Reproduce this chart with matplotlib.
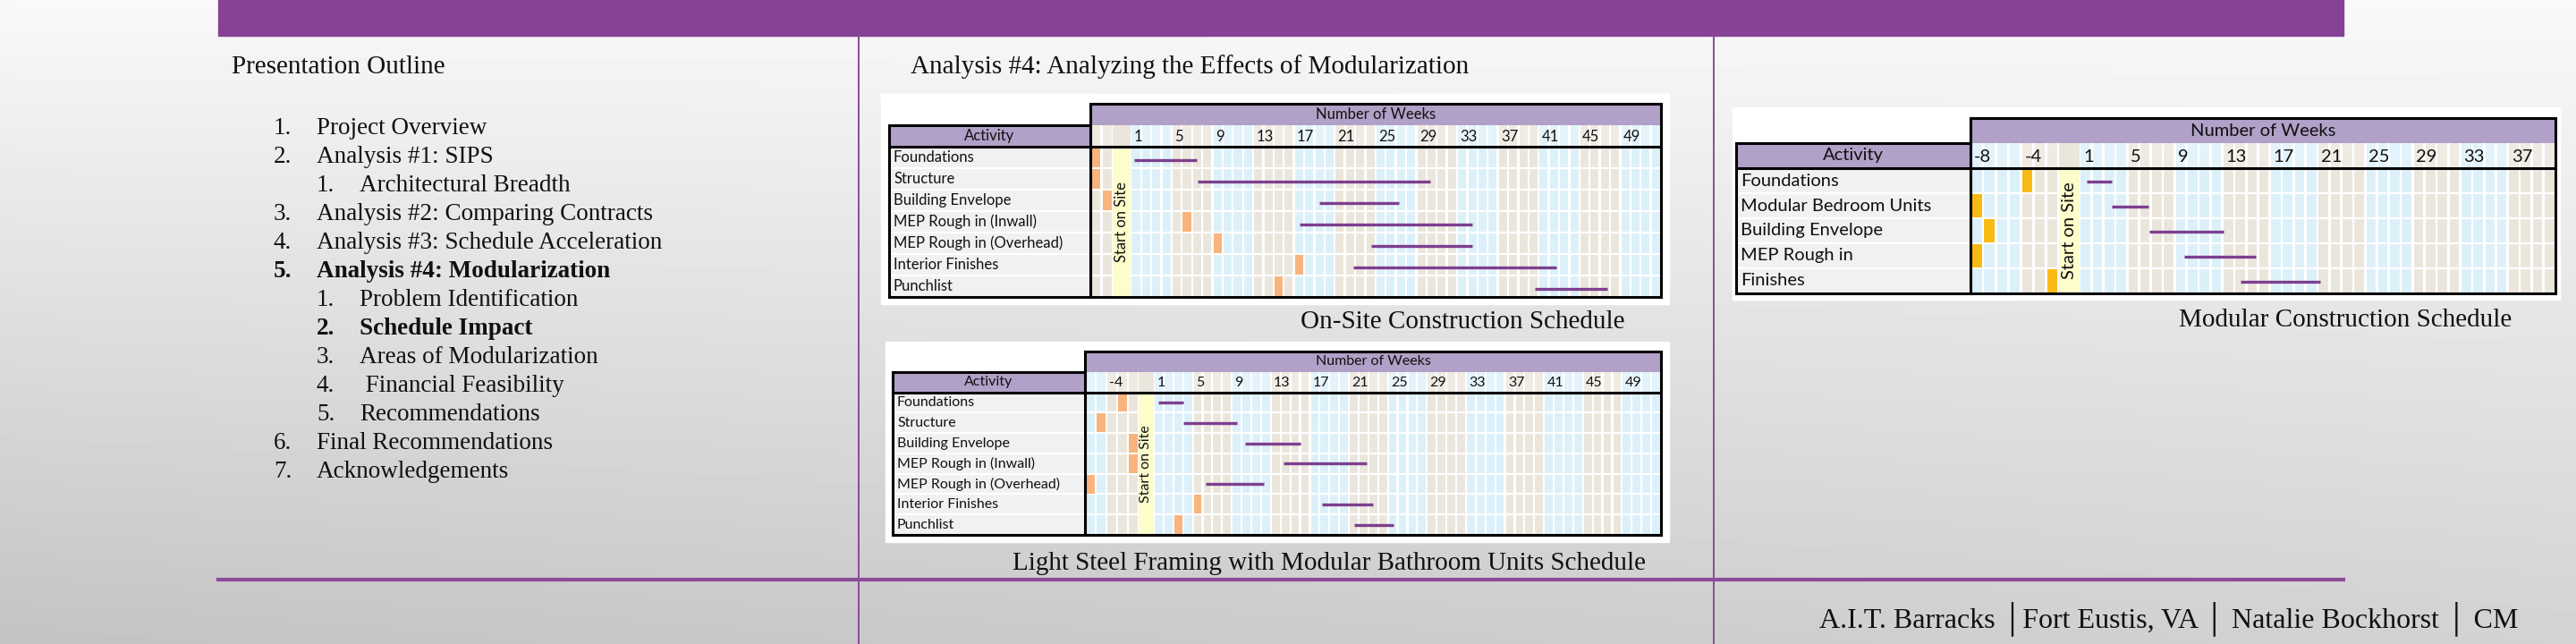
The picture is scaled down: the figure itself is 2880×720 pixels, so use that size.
import numpy as np
import matplotlib
matplotlib.use("Agg")
import matplotlib.pyplot as plt
from matplotlib.patches import Rectangle

W, H = 2880, 720
DPI = 100

SERIF = ["Liberation Serif", "DejaVu Sans"]
SANS = ["Lato", "DejaVu Sans"]

# ---------------- slide text ----------------
outline_title = "Presentation Outline"
outline_nums = ["1.", "2.", "1.", "3.", "4.", "5.", "1.", "2.", "3.", "4.", "5.", "6.", "7."]
outline_text = ["Project Overview", "Analysis #1: SIPS", "Architectural Breadth",
                "Analysis #2: Comparing Contracts", "Analysis #3: Schedule Acceleration",
                "Analysis #4: Modularization", "Problem Identification", "Schedule Impact",
                "Areas of Modularization", " Financial Feasibility", "Recommendations",
                "Final Recommendations", "Acknowledgements"]
outline_level = [0, 0, 1, 0, 0, 0, 1, 1, 1, 1, 1, 0, 0]
outline_bold = [False, False, False, False, False, True, False, True, False, False, False, False, False]

slide_title = "Analysis #4: Analyzing the Effects of Modularization"
footer = "A.I.T. Barracks \u2502Fort Eustis, VA \u2502 Natalie Bockhorst \u2502 CM"

# ---------------- schedule data (weeks, 0 = start of week 1) ----------------
onsite_acts = ["Foundations", "Structure", "Building Envelope", "MEP Rough in (Inwall)",
               "MEP Rough in (Overhead)", "Interior Finishes", "Punchlist"]
onsite_start = [0.35, 6.6, 18.5, 16.6, 23.6, 21.8, 39.6]
onsite_end = [6.5, 29.4, 26.3, 33.5, 33.5, 41.7, 46.7]
onsite_mark = [-2, -2, -1, 6, 9, 17, 15]
onsite_pre = [-2, -1]
onsite_weeks = 52
onsite_labels = [1, 5, 9, 13, 17, 21, 25, 29, 33, 37, 41, 45, 49]

lsf_acts = onsite_acts
lsf_start = [0.46, 3.0, 9.4, 13.3, 5.3, 17.2, 20.5]
lsf_end = [3.0, 8.5, 15.0, 21.8, 11.3, 22.5, 24.6]
lsf_mark = [-3, -5, -2, -2, -6, 5, 3]
lsf_pre = [-6, -5, -4, -3, -2]
lsf_weeks = 52
lsf_labels = [-4, 1, 5, 9, 13, 17, 21, 25, 29, 33, 37, 41, 45, 49]

mod_acts = ["Foundations", "Modular Bedroom Units", "Building Envelope", "MEP Rough in", "Finishes"]
mod_start = [0.6, 2.7, 5.9, 8.8, 13.5]
mod_end = [2.7, 5.8, 12.1, 14.8, 20.2]
mod_mark = [-4, -8, -7, -8, -2]
mod_pre = [-8, -7, -6, -5, -4, -3, -2]
mod_weeks = 40
mod_labels = [-8, -4, 1, 5, 9, 13, 17, 21, 25, 29, 33, 37]

# colours
PURPLE = "#864294"
LINE_PURPLE = "#8b4b98"
LAVENDER = "#b1a0c7"
BLUE = "#dcf0fa"
BEIGE = "#ebe6dc"
YELLOW = "#fdfccb"
BAR = "#7d3f8f"
ACT_FILL = "#f1f1f1"
INK = "#111111"

fig = plt.figure(figsize=(W / DPI, H / DPI), dpi=DPI)


def px_axes(x0, y0, x1, y1):
    return fig.add_axes([x0 / W, 1 - y1 / H, (x1 - x0) / W, (y1 - y0) / H])


# ---------------- background ----------------
bg = fig.add_axes([0, 0, 1, 1])
bg.set_xlim(0, W)
bg.set_ylim(H, 0)
bg.axis("off")
yy, xx = np.mgrid[0:1:180j, 0:1:360j]
shade = 0.975 - 0.15 * yy - 0.06 * yy * (1 - xx)
bg.imshow(shade, cmap="gray", vmin=0, vmax=1, extent=(0, W, H, 0), aspect="auto", zorder=0)

bg.add_patch(Rectangle((244, 0), 2620 - 244, 40, color=PURPLE, zorder=2))
bg.plot([960, 960], [40, H], color=LINE_PURPLE, lw=1.4, zorder=2)
bg.plot([1916, 1916], [40, H], color=LINE_PURPLE, lw=1.4, zorder=2)
bg.plot([244, 2620], [648, 648], color=LINE_PURPLE, lw=3, zorder=2)

# white boxes behind the schedule pictures
for (bx0, by0, bx1, by1) in [(985, 105, 1866, 340), (990, 382, 1866, 606), (1937, 120, 2862, 335)]:
    bg.add_patch(Rectangle((bx0, by0), bx1 - bx0, by1 - by0, color="white", zorder=2))

# outline
bg.text(259, 75, outline_title, family=SERIF, fontsize=21, va="center", color=INK, zorder=3)
for i, (num, txt, lvl, bold) in enumerate(zip(outline_nums, outline_text, outline_level, outline_bold)):
    y = 143 + i * 32
    fw = "bold" if bold else "normal"
    nx = 306 if lvl == 0 else 354
    bg.text(nx, y, num, family=SERIF, fontsize=19.5, va="center", fontweight=fw, color=INK, zorder=3)
    bg.text(nx + 48, y, txt, family=SERIF, fontsize=19.5, va="center", fontweight=fw, color=INK, zorder=3)

bg.text(1018, 75, slide_title, family=SERIF, fontsize=21, va="center", color=INK, zorder=3)
bg.text(1635, 360, "On-Site Construction Schedule", family=SERIF, fontsize=21,
        ha="center", va="center", color=INK, zorder=3)
bg.text(1486, 630, "Light Steel Framing with Modular Bathroom Units Schedule", family=SERIF, fontsize=21,
        ha="center", va="center", color=INK, zorder=3)
bg.text(2622, 358, "Modular Construction Schedule", family=SERIF, fontsize=21,
        ha="center", va="center", color=INK, zorder=3)
bg.text(2425, 692, footer, family=SERIF, fontsize=23, ha="center", va="center", color=INK, zorder=3)


# ---------------- gantt tables ----------------
def week_color(wk):
    g = (wk - 1) // 4 if wk > 0 else wk // 4
    return BLUE if g % 2 == 0 else BEIGE


def draw_gantt(act_px, grid_px, acts, starts, ends, marks, pre, n_weeks, labels,
               pre_w, start_w, mark_color, fs, bar_off):
    n = len(acts)
    x0 = -start_w - len(pre) * pre_w

    cols = {}
    for i, wk in enumerate(pre):
        cols[wk] = (x0 + i * pre_w, pre_w)
    for wk in range(1, n_weeks + 1):
        cols[wk] = (wk - 1.0, 1.0)

    ax = px_axes(*grid_px)
    ax.set_xlim(x0, n_weeks)
    ax.set_ylim(n, -2)
    ax.axis("off")
    ax.add_patch(Rectangle((x0, -2), n_weeks - x0, n + 2, color="white", zorder=0))

    gap = 0.2
    lefts = np.array([cols[k][0] for k in cols]) + gap / 2
    widths = np.array([cols[k][1] for k in cols]) - gap
    colors = [week_color(k) for k in cols]
    ax.bar(lefts, n, bottom=0, width=widths, align="edge", color=colors, zorder=1)
    ax.bar(lefts, 1, bottom=-1, width=widths, align="edge", color=colors, alpha=0.8, zorder=1)
    ax.hlines(np.arange(1, n), x0, n_weeks, color="white", lw=1.6, zorder=2)

    # start on site column
    ax.bar(-start_w, n, bottom=0, width=start_w, align="edge", color=YELLOW, zorder=3)
    ax.bar(-start_w, 1, bottom=-1, width=start_w, align="edge", color=BEIGE, zorder=3)
    ax.text(-start_w / 2, n / 2, "Start on Site", rotation=90, ha="center", va="center",
            family=SANS, fontsize=fs, color=INK, zorder=4)

    # header rows
    ax.bar(x0, 1, bottom=-2, width=n_weeks - x0, align="edge", color=LAVENDER, zorder=1)
    ax.text((x0 + n_weeks) / 2, -1.5, "Number of Weeks", ha="center", va="center",
            family=SANS, fontsize=fs, color=INK, zorder=4)
    for lab in labels:
        ax.text(cols[lab][0] + 0.3, -0.45, str(lab), ha="left", va="center",
                family=SANS, fontsize=fs, color=INK, zorder=4)

    # pre-start markers
    for r, wk in enumerate(marks):
        left, w = cols[wk]
        ax.bar(left + 0.1, 0.92, bottom=r + 0.04, width=w - 0.2, align="edge", color=mark_color, zorder=4)

    # activity durations
    ax.hlines(np.arange(n) + bar_off, starts, ends, color=BAR, lw=2.4, zorder=5)

    # borders
    ax.add_patch(Rectangle((x0, -2), n_weeks - x0, n + 2, fill=False, ec="black", lw=2.2,
                           clip_on=False, zorder=6))
    ax.hlines(0, x0, n_weeks, color="black", lw=2.2, zorder=6, clip_on=False)

    # activity column
    aa = px_axes(act_px[0], grid_px[1], act_px[1], grid_px[3])
    aa.set_xlim(0, 1)
    aa.set_ylim(n, -2)
    aa.axis("off")
    aa.barh(np.arange(n), 1, left=0, height=1, align="edge", color=ACT_FILL, zorder=1)
    aa.hlines(np.arange(1, n), 0, 1, color="white", lw=1.6, zorder=2)
    aa.barh(-1, 1, left=0, height=1, align="edge", color=LAVENDER, zorder=1)
    aa.text(0.5, -0.5, "Activity", ha="center", va="center", family=SANS, fontsize=fs, color=INK, zorder=3)
    pad = 5 / (act_px[1] - act_px[0])
    for r, name in enumerate(acts):
        aa.text(pad, r + 0.5, name, ha="left", va="center", family=SANS, fontsize=fs, color=INK, zorder=3)
    aa.add_patch(Rectangle((0, -1), 1, n + 1, fill=False, ec="black", lw=2.2, clip_on=False, zorder=6))
    aa.hlines(0, 0, 1, color="black", lw=2.2, zorder=6, clip_on=False)


draw_gantt((994, 1219), (1219, 116, 1857, 332), onsite_acts, onsite_start, onsite_end, onsite_mark,
           onsite_pre, onsite_weeks, onsite_labels, 1.1, 1.77, "#f9b47e", 12, 0.62)
draw_gantt((998, 1213), (1213, 393, 1857, 598), lsf_acts, lsf_start, lsf_end, lsf_mark,
           lsf_pre, lsf_weeks, lsf_labels, 1.1, 1.56, "#f9b47e", 11.5, 0.5)
draw_gantt((1941, 2203), (2203, 132, 2857, 328), mod_acts, mod_start, mod_end, mod_mark,
           mod_pre, mod_weeks, mod_labels, 1.06, 1.75, "#f8bb14", 14.5, 0.53)

fig.savefig("out.png", dpi=DPI)
